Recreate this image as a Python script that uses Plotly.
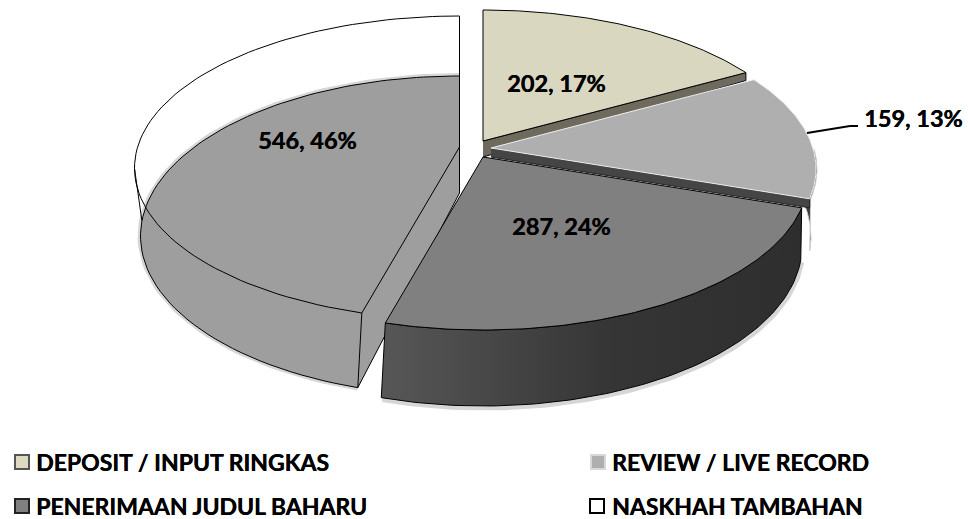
import numpy as np
import plotly.graph_objects as go

categories = ["DEPOSIT / INPUT RINGKAS", "REVIEW / LIVE RECORD", "PENERIMAAN JUDUL BAHARU", "NASKHAH TAMBAHAN"]
values = [202, 159, 287, 546]
top_colors = ["#D9D7C0", "#AFAFAF", "#808080", "#9E9E9E"]
swatch_colors = ["#DDD9C3", "#AFAFAF", "#7F7F7F", "#FFFFFF"]
swatch_lines = ["#555555", "#D8D8D8", "#222222", "#000000"]

# apex of each exploded slice on the top face (pixels of the 968x519 page)
apex = [(483, 141), (491, 148), (483, 157), (459.5, 147)]
FONT = "Lato"
HEAVY = "0.4px 0 0 #000000"

RX, RY, RATIO, CDY = 325.0, 152.0, 2.14, 21.0          # top rim
RXB, RYB, RATIOB, CDYB, ADYB = 319.0, 160.0, 1.9, 89.0, 46.0  # bottom rim

total = sum(values)
edges = np.concatenate([[0], np.cumsum(values)]) / total * 2 * np.pi


def rim(a, th, bottom=False):
    th = np.asarray(th, dtype=float)
    if bottom:
        ax, ay = a[0], a[1] + ADYB
        rx, ry, ratio = RXB, RYB, RATIOB
        cx, cy = a[0], a[1] + CDYB
    else:
        ax, ay = a
        rx, ry, ratio = RX, RY, RATIO
        cx, cy = a[0], a[1] + CDY
    dx, dy = ratio * np.sin(th), -np.cos(th)
    ox, oy = ax - cx, ay - cy
    A = (dx / rx) ** 2 + (dy / ry) ** 2
    B = 2 * (ox * dx / rx ** 2 + oy * dy / ry ** 2)
    C = (ox / rx) ** 2 + (oy / ry) ** 2 - 1
    t = (-B + np.sqrt(B * B - 4 * A * C)) / (2 * A)
    return ax + t * dx, ay + t * dy


def sweep(i, n=90):
    return np.linspace(edges[i], edges[i + 1], n)


fig = go.Figure()


def poly(x, y, fill=None, line="#000000", width=1, gradient=None):
    kw = dict(x=list(x), y=list(y), mode="lines", hoverinfo="skip", showlegend=False,
              line=dict(color=line, width=width))
    if fill is not None or gradient is not None:
        kw["fill"] = "toself"
    if fill is not None:
        kw["fillcolor"] = fill
    if gradient is not None:
        kw["fillgradient"] = dict(type="horizontal", colorscale=gradient)
    fig.add_trace(go.Scatter(**kw))


def seg(p, q, color="#000000", width=1):
    poly([p[0], q[0]], [p[1], q[1]], line=color, width=width)


# ---- slice 4 (NASKHAH TAMBAHAN): see-through top, grey floor and wall
a = apex[3]
th = sweep(3)
bx, by = rim(a, th, True)
tx, ty = rim(a, th)
az = (a[0], a[1] + ADYB)
poly(bx, by, line="rgba(0,0,0,0.16)", width=6)
poly(np.r_[bx, az[0]], np.r_[by, az[1]], fill=top_colors[3], width=1)
poly(tx, ty, width=1)
end_t = (tx[0], ty[0])
end_b = (bx[0], by[0])
seg(end_t, end_b)
seg(a, end_t)
seg(az, end_b)
seg((tx[-1], ty[-1]), az)
left = int(np.argmin(tx))
seg((tx[left], ty[left]), (bx[left] - 1, by[left] + 4), width=1)

# ---- slice 1 (DEPOSIT)
a = apex[0]
th = sweep(0)
tx, ty = rim(a, th)
poly([a[0], tx[-1], tx[-1], a[0]], [a[1], ty[-1], ty[-1] + 8, a[1] + 16], fill="#6E6B5E", width=1)
poly(np.r_[a[0], tx, a[0]], np.r_[a[1], ty, a[1]], fill=top_colors[0], width=1)

# ---- slice 2 (REVIEW)
a = apex[1]
th = sweep(1)
tx, ty = rim(a, th)
bx, by = rim(a, th, True)
k = th >= np.pi / 2
poly(np.r_[tx[k], bx[k][::-1]] + 1, np.r_[ty[k], by[k][::-1]], fill="#3A3A3A", line="#D0D0D0", width=1)
poly([a[0], tx[-1], tx[-1], a[0]], [a[1], ty[-1], ty[-1] + 9, a[1] + 9], fill="#454545", line="#222222", width=1)
poly(np.r_[a[0], tx, a[0]], np.r_[a[1], ty, a[1]], fill=top_colors[1], line="#EFEFEF", width=1)

# ---- slice 3 (PENERIMAAN)
a = apex[2]
th = sweep(2)
tx, ty = rim(a, th)
bx, by = rim(a, th, True)
poly(bx + 1, by + 2, line="rgba(0,0,0,0.16)", width=5)
poly(np.r_[tx, bx[::-1], tx[0]], np.r_[ty, by[::-1], ty[0]], line="#000000", width=1,
     gradient=[[0, "#575757"], [0.55, "#353535"], [1, "#2E2E2E"]])
poly(np.r_[a[0], tx, a[0]], np.r_[a[1], ty, a[1]], fill=top_colors[2], width=1)

# ---- leader line for the outside label
seg((807, 133), (850, 126), width=2)
seg((850, 126), (858, 126), width=2)

# ---- legend swatches
sw_x = [22, 598, 22, 597]
sw_y = [462, 462, 506, 506]
text_x = [34, 610, 34, 610]
fig.add_trace(go.Scatter(
    x=sw_x, y=sw_y, mode="markers", hoverinfo="skip", showlegend=False,
    marker=dict(symbol="square", size=14, color=swatch_colors,
                line=dict(color=swatch_lines, width=2))))

ann = []
for name, x, y in zip(categories, text_x, sw_y):
    ann.append(dict(x=x, y=y, text=f"<b>{name}</b>", showarrow=False, xanchor="left", yanchor="middle",
                    font=dict(family=FONT, size=23, color="#000000", shadow=HEAVY)))
label_pos = [(556, 83), (913, 118), (561, 226), (307, 140)]
for v, (x, y) in zip(values, label_pos):
    ann.append(dict(x=x, y=y, text=f"<b>{v}, {round(100 * v / total)}%</b>", showarrow=False,
                    xanchor="center", yanchor="middle",
                    font=dict(family=FONT, size=23.5, color="#000000", shadow=HEAVY)))

fig.update_layout(
    width=968, height=519, margin=dict(l=0, r=0, t=0, b=0), showlegend=False,
    paper_bgcolor="#FFFFFF", plot_bgcolor="#FFFFFF", annotations=ann,
    xaxis=dict(range=[0, 968], visible=False, fixedrange=True),
    yaxis=dict(range=[519, 0], visible=False, fixedrange=True),
)
fig.write_html("out.html", config={"displayModeBar": False},
               post_script="document.body.style.margin='0';document.body.style.overflow='hidden';")
